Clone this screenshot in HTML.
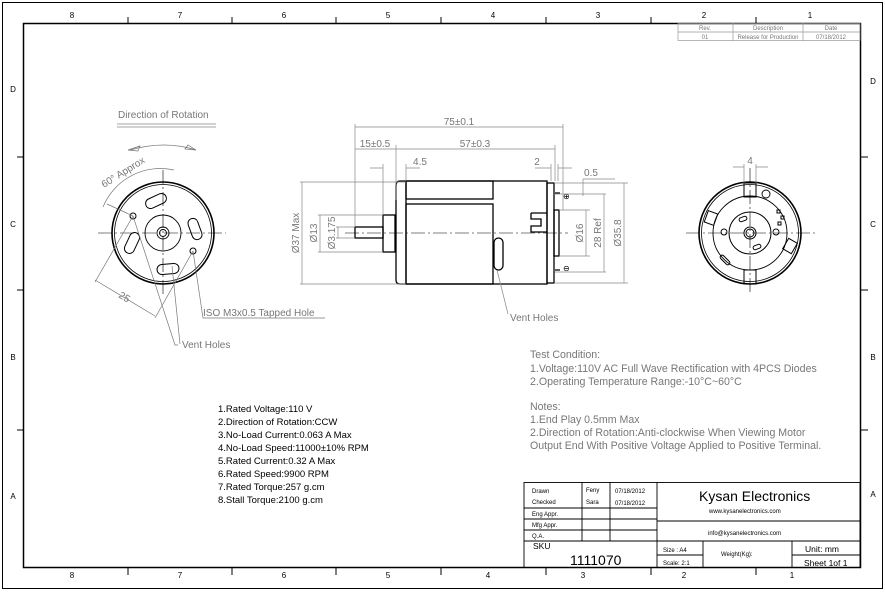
<!DOCTYPE html>
<html><head><meta charset="utf-8"><style>
html,body{margin:0;padding:0;background:#fff;}
svg{display:block;font-family:"Liberation Sans",sans-serif;}
.g{fill:#777;font-size:10px;}
.k{fill:#000;}
</style></head><body>
<svg width="885" height="593" viewBox="0 0 885 593" xmlns="http://www.w3.org/2000/svg">
<rect x="0" y="0" width="885" height="593" fill="#fff"/>
<rect x="2.5" y="2.5" width="880" height="586" fill="none" stroke="#000" stroke-width="1"/>
<rect x="23.5" y="23.5" width="837" height="544" fill="none" stroke="#000" stroke-width="1.5"/>
<g stroke="#000" stroke-width="1">
<path d="M128 17V23M232 17V23M336 17V23M441 17V23M546 17V23M651 17V23M756 17V23"/>
<path d="M128 568V575M232 568V575M336 568V575M441 568V575M546 568V575M651 568V575M756 568V575"/>
<path d="M17 157H23M17 290H23M17 430H23M861 157H868M861 290H868M861 430H868"/>
</g>
<g font-size="8" fill="#000" text-anchor="middle">
<text x="72" y="18">8</text><text x="180" y="18">7</text><text x="284" y="18">6</text><text x="388" y="18">5</text><text x="493" y="18">4</text><text x="598" y="18">3</text><text x="704" y="18">2</text><text x="810" y="18">1</text>
<text x="72" y="578">8</text><text x="180" y="578">7</text><text x="284" y="578">6</text><text x="388" y="578">5</text><text x="488" y="578">4</text><text x="583" y="578">3</text><text x="684" y="578">2</text><text x="792" y="578">1</text>
<text x="13" y="92">D</text><text x="13" y="227">C</text><text x="13" y="360">B</text><text x="13" y="499">A</text>
<text x="873" y="84">D</text><text x="873" y="227">C</text><text x="873" y="360">B</text><text x="873" y="497">A</text>
</g>
<g stroke="#999" stroke-width="0.7" fill="none">
<rect x="678" y="23.5" width="182" height="17"/>
<path d="M678 32H860M733 23V41M803 23V41"/>
</g>
<g font-size="6" fill="#777" text-anchor="middle">
<text x="705" y="30">Rev.</text><text x="768" y="30">Description</text><text x="831" y="30">Date</text>
<text x="705" y="39">01</text><text x="768" y="39">Release for Production</text><text x="831" y="39">07/18/2012</text>
</g>

<text x="118" y="118" class="g">Direction of Rotation</text>
<path d="M117 124H216M117 127H216" stroke="#888" stroke-width="0.7"/>
<path d="M130 150 Q165 140 196 150" fill="none" stroke="#777" stroke-width="0.8"/>
<path d="M128 150l12 -4l-2 5z M196 150l-8 -5l-3 4z" fill="none" stroke="#777" stroke-width="0.7"/>
<path d="M103 207 A62 62 0 0 1 174 170" fill="none" stroke="#777" stroke-width="0.7"/>
<text x="104" y="188" class="g" transform="rotate(-32 104 188)">60° Approx</text>
<g stroke="#000" fill="none">
<circle cx="163" cy="233" r="51" stroke-width="1.6"/>
<circle cx="163" cy="233" r="48.5" stroke-width="0.8"/>
<circle cx="163" cy="233" r="18" stroke-width="0.9"/>
<circle cx="163" cy="233" r="6" stroke-width="0.9"/>
<circle cx="163" cy="233" r="3.5" stroke-width="0.9"/>
<circle cx="133" cy="216" r="3" stroke-width="1"/>
<circle cx="193" cy="251" r="3" stroke-width="1"/>
<rect x="145" y="196" width="22" height="10" rx="5" transform="rotate(-25 156 201)" stroke-width="1"/>
<rect x="184" y="224" width="22" height="10" rx="5" transform="rotate(70 195 229)" stroke-width="1"/>
<rect x="121" y="238" width="22" height="10" rx="5" transform="rotate(-65 132 243)" stroke-width="1"/>
<rect x="157" y="264" width="22" height="10" rx="5" transform="rotate(-5 168 269)" stroke-width="1"/>
</g>
<path d="M98 233H226M163 170V296" stroke="#000" stroke-width="0.6" stroke-dasharray="14 3 2 3"/>
<g stroke="#777" stroke-width="0.7" fill="none">
<path d="M133 216L95 282M193 251L155 318M95 280L155 316M107 204L133 216"/>
<path d="M133 216L175 345H178M193 251L203 318H325M172 266L180 344"/>
</g>
<text x="118" y="297" class="g" transform="rotate(31 118 297)">25</text>
<text x="203" y="316" class="g">ISO M3x0.5 Tapped Hole</text>
<text x="182" y="348" class="g">Vent Holes</text>

<g stroke="#000" fill="none" stroke-width="1.3">
<rect x="406" y="181" width="141" height="103"/>
<rect x="406" y="181" width="87" height="18"/>
<rect x="406" y="204" width="87" height="80"/>
<rect x="547" y="183" width="7" height="100"/>
<rect x="554" y="210" width="5" height="46"/>
<rect x="383" y="215" width="12" height="37"/>
<rect x="355" y="227" width="28" height="11"/>
<path d="M406 181H400Q396 181 396 186V280Q396 284 400 284H406"/>
<rect x="494" y="238" width="9" height="32" rx="4.5"/>
<path d="M531 213H547M531 213V219H541V226H531V232H547"/>
<path d="M555 193H560M555 270H560"/>
</g>
<path d="M345 233H568" stroke="#000" stroke-width="0.6" stroke-dasharray="14 3 2 3"/>
<text x="563" y="199" font-size="8">⊕</text><text x="563" y="271" font-size="8">⊖</text>
<g stroke="#888" stroke-width="0.7" fill="none">
<path d="M355 124V227M563 124V210M396 145V200M555 145V181M383 164V215M406 164V181M551 164V181M558 164V181"/>
<path d="M355 127H563M355 149H396M396 149H555M370 168H383M406 168H420M535 168H551M558 168H572"/>
<path d="M300 182H406M300 284H406M318 215H383M318 252H383M336 227H355M336 238H355"/>
<path d="M302 182V284M320 215V252M338 227V238"/>
<path d="M559 210H590M559 256H590M555 194H606M555 272H606M554 183H628M554 283H628"/>
<path d="M586 210V256M604 194V272M624 183V283M583 179H615M583 179V196"/>
<path d="M497 270L508 314"/>
</g>
<g class="g" text-anchor="middle">
<text x="459" y="125">75±0.1</text>
<text x="375" y="147">15±0.5</text>
<text x="475" y="147">57±0.3</text>
<text x="420" y="165">4.5</text>
<text x="537" y="165">2</text>
<text x="591" y="176">0.5</text>
</g>
<g class="g" text-anchor="middle">
<text transform="translate(299 233) rotate(-90)">Ø37  Max</text>
<text transform="translate(317 233) rotate(-90)">Ø13</text>
<text transform="translate(335 233) rotate(-90)">Ø3.175</text>
<text transform="translate(583 233) rotate(-90)">Ø16</text>
<text transform="translate(601 233) rotate(-90)">28 Ref</text>
<text transform="translate(621 233) rotate(-90)">Ø35.8</text>
</g>
<text x="510" y="321" class="g">Vent Holes</text>

<g stroke="#000" fill="none">
<circle cx="750" cy="233" r="51" stroke-width="1.6"/>
<circle cx="750" cy="233" r="48.5" stroke-width="0.8"/>
<circle cx="750" cy="233" r="37" stroke-width="0.9"/>
<circle cx="750" cy="233" r="21" stroke-width="1"/>
<circle cx="750" cy="233" r="6" stroke-width="1"/>
<circle cx="750" cy="233" r="4" stroke-width="1"/>
<circle cx="724" cy="232" r="3" stroke-width="0.9"/>
<circle cx="776" cy="232" r="3" stroke-width="0.9"/>
<circle cx="766" cy="194" r="4" stroke-width="0.9"/>
<rect x="744" y="183" width="12" height="14" stroke-width="1"/>
<rect x="744" y="270" width="12" height="14" stroke-width="1"/>
<rect x="706" y="212" width="10" height="12" transform="rotate(20 711 218)" stroke-width="1"/>
<rect x="785" y="240" width="10" height="12" transform="rotate(30 790 246)" stroke-width="1"/>
<rect x="777" y="210" width="3" height="3"/><rect x="781" y="216" width="3" height="3"/><rect x="778" y="222" width="3" height="3"/>
<rect x="739" y="217" width="8" height="4" rx="2" transform="rotate(-20 743 219)"/>
<rect x="753" y="245" width="8" height="4" rx="2" transform="rotate(-20 757 247)"/>
<rect x="719" y="258" width="12" height="4" rx="2" transform="rotate(45 725 260)"/>
</g>
<path d="M686 233H815M750 168V295" stroke="#000" stroke-width="0.6" stroke-dasharray="14 3 2 3"/>
<path d="M744 164V183M756 164V183M733 167H744M756 167H768" stroke="#888" stroke-width="0.7"/>
<text x="750" y="164" class="g" text-anchor="middle">4</text>

<g fill="#777" font-size="10.6">
<text x="530" y="358">Test Condition:</text>
<text x="530" y="372">1.Voltage:110V AC Full Wave Rectification with 4PCS Diodes</text>
<text x="530" y="385">2.Operating Temperature Range:-10°C~60°C</text>
<text x="530" y="410">Notes:</text>
<text x="530" y="423">1.End Play 0.5mm Max</text>
<text x="530" y="436">2.Direction of Rotation:Anti-clockwise When Viewing Motor</text>
<text x="530" y="449">Output End With Positive Voltage Applied to Positive Terminal.</text>
</g>
<g font-size="9.5" fill="#000">
<text x="218" y="412">1.Rated Voltage:110 V</text>
<text x="218" y="425">2.Direction of Rotation:CCW</text>
<text x="218" y="438">3.No-Load Current:0.063 A  Max</text>
<text x="218" y="451">4.No-Load Speed:11000±10% RPM</text>
<text x="218" y="464">5.Rated Current:0.32 A  Max</text>
<text x="218" y="477">6.Rated Speed:9900 RPM</text>
<text x="218" y="490">7.Rated Torque:257 g.cm</text>
<text x="218" y="503">8.Stall Torque:2100 g.cm</text>
</g>

<g stroke="#000" stroke-width="0.9" fill="none">
<rect x="524" y="482.5" width="336" height="85"/>
<path d="M524 508H657M524 519H657M524 530H657M524 541H860M582 482V541M610 482V541M657 482V568M657 521H860M703 541V568M792 541V568M657 555H703M792 555H860"/>
</g>
<g font-size="6" fill="#000">
<text x="532" y="493">Drawn</text><text x="532" y="504">Checked</text><text x="532" y="516">Eng Appr.</text><text x="532" y="527">Mfg Appr.</text><text x="532" y="538">Q.A.</text>
<text x="586" y="492">Feny</text><text x="586" y="504">Sara</text>
<text x="615" y="493">07/18/2012</text><text x="615" y="505">07/18/2012</text>
<text x="663" y="552">Size : A4</text><text x="663" y="565">Scale: 2:1</text>
<text x="721" y="556">Weight(Kg):</text>
<text x="709" y="513">www.kysanelectronics.com</text>
<text x="708" y="535">info@kysanelectronics.com</text>
</g>
<text x="533" y="549" font-size="8.5">SKU</text>
<text x="570" y="565" font-size="14">1111070</text>
<text x="699" y="501" font-size="14">Kysan Electronics</text>
<text x="805" y="552" font-size="8.5">Unit: mm</text>
<text x="804" y="566" font-size="8.5">Sheet 1of 1</text>
</svg>
</body></html>
